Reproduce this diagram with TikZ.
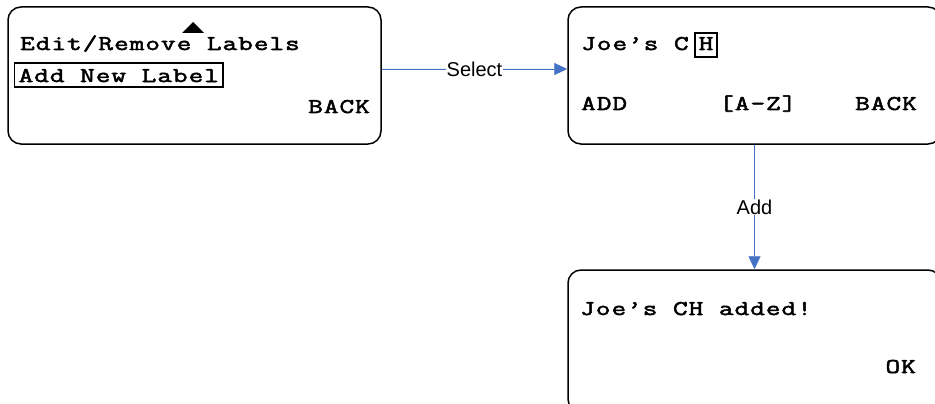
\documentclass[tikz,border=0pt]{standalone}
\usepackage{fontspec}
\usepackage{xcolor}
\usepackage{tikz}
\usetikzlibrary{arrows.meta, positioning}
\newfontfamily\lcdfont[FakeStretch=1.35, LetterSpace=5, FakeBold=2.5]{Latin Modern Mono}
\newfontfamily\labelfont{Liberation Sans}
\definecolor{flowblue}{HTML}{4472C4}

\begin{document}
\begin{tikzpicture}[
    x=1pt, y=-1pt,
    screen/.style={draw, line width=1.5pt, rounded corners=13pt, minimum width=373pt, minimum height=137pt, inner sep=0pt},
    lcd/.style={font=\lcdfont\fontsize{21pt}{25pt}\selectfont, inner sep=0pt},
    key/.style={lcd, draw, line width=1.2pt},
    arrow/.style={-{Triangle[length=13pt, width=12pt]}, draw=flowblue, fill=flowblue, line width=0.9pt},
    lbl/.style={fill=white, font=\labelfont\fontsize{20pt}{24pt}\selectfont, inner sep=1pt}
]
    \clip (0,0) rectangle (935,404);

    % screens
    \node[screen] (menu) at (194.5,75.5) {};
    \node[screen] (edit) at (754.5,75.5) {};
    \node[screen, minimum height=142pt] (done) at (754.5,341) {};

    % menu screen
    \fill (193,22) -- (204,33) -- (182,33) -- cycle;
    \node[lcd, anchor=base west] (editlbl) at (20,50) {Edit/Remove Labels};
    \node[key, anchor=base west, inner xsep=4pt, inner ysep=3pt, text height=16pt, text depth=2pt] (addnew) at (14,82) {Add New Label};
    \node[lcd, anchor=base east] (back1) at (370,113) {BACK};

    % edit screen
    \node[lcd, anchor=base west] (name) at (581,50) {Joe’s C};
    \node[key, anchor=base, minimum width=22pt, inner ysep=2pt, text height=15pt, text depth=5pt] (cursor) at (706,50) {H};
    \node[lcd, anchor=base west] (add) at (581,110) {ADD};
    \node[lcd, anchor=base west] (range) at (719,110) {[A-Z]};
    \node[lcd, anchor=base east] (back2) at (917,110) {BACK};

    % confirmation screen
    \node[lcd, anchor=base west] (msg) at (580,315) {Joe’s CH added!};
    \node[lcd, anchor=base east] (ok) at (916,373) {OK};

    \draw[arrow] ([yshift=6.5pt]menu.east) -- node[lbl] {Select} ([yshift=6.5pt]edit.west);
    \draw[arrow] (edit.south) -- node[lbl] {Add} (done.north);
\end{tikzpicture}
\end{document}
